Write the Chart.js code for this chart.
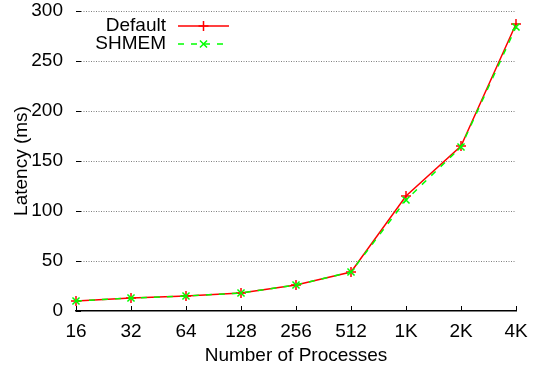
<!DOCTYPE html>
<html>
<head>
<meta charset="utf-8">
<script src="https://cdn.jsdelivr.net/npm/chart.js@4.4.1/dist/chart.umd.min.js"></script>
<style>
html, body { margin: 0; padding: 0; background: #fff; }
#wrap { width: 537px; height: 372px; }
</style>
</head>
<body>
<div id="wrap"><canvas id="latencyChart" width="537" height="372"></canvas></div>
<script>
var processes = ['16', '32', '64', '128', '256', '512', '1K', '2K', '4K'];
var defaultLatency = [10, 13, 15, 18, 26, 39, 115, 165, 287];
var shmemLatency = [10, 13, 15, 18, 26, 39, 111, 164, 284];
var yTicks = [0, 50, 100, 150, 200, 250, 300];

Chart.defaults.font.family = 'Liberation Sans, Arial, sans-serif';
Chart.defaults.font.size = 19;
Chart.defaults.color = '#000';

// gnuplot style: dotted grid, tics pointing into the plot, legend with label before the sample
var gnuplotLook = {
    id: 'gnuplotLook',
    beforeDatasetsDraw: function (chart) {
        var ctx = chart.ctx;
        var area = chart.chartArea;
        var x = chart.scales.x, y = chart.scales.y;
        ctx.save();
        // grid
        ctx.strokeStyle = '#808080';
        ctx.lineWidth = 1;
        ctx.setLineDash([1, 1.5]);
        ctx.beginPath();
        y.ticks.forEach(function (t, i) {
            if (t.value === 0) return;
            var py = Math.round(y.getPixelForTick(i)) + 0.5;
            ctx.moveTo(area.left + 5, py);
            ctx.lineTo(area.right, py);
        });
        ctx.stroke();
        ctx.setLineDash([]);
        // tics
        ctx.strokeStyle = '#000';
        ctx.beginPath();
        x.ticks.forEach(function (t, i) {
            var px = Math.round(x.getPixelForTick(i)) + 0.5;
            ctx.moveTo(px, area.bottom);
            ctx.lineTo(px, area.bottom - 5);
        });
        y.ticks.forEach(function (t, i) {
            var py = Math.round(y.getPixelForTick(i)) + 0.5;
            ctx.moveTo(area.left, py);
            ctx.lineTo(area.left + 5, py);
        });
        ctx.stroke();
        ctx.restore();
    },
    afterDraw: function (chart) {
        var ctx = chart.ctx;
        ctx.save();
        ctx.font = '19px Liberation Sans, Arial, sans-serif';
        ctx.textAlign = 'right';
        ctx.textBaseline = 'middle';
        chart.data.datasets.forEach(function (ds, i) {
            var rowY = 26 + i * 18;
            ctx.fillStyle = '#000';
            ctx.fillText(ds.label, 166, rowY);
            ctx.strokeStyle = ds.borderColor;
            ctx.lineWidth = ds.borderWidth;
            ctx.setLineDash(ds.borderDash || []);
            ctx.beginPath();
            ctx.moveTo(178, rowY);
            ctx.lineTo(229, rowY);
            ctx.stroke();
            ctx.setLineDash([]);
            Chart.helpers.drawPoint(ctx, {
                pointStyle: ds.pointStyle,
                radius: ds.pointRadius,
                borderWidth: ds.pointBorderWidth,
                rotation: 0
            }, 203.5, rowY);
        });
        ctx.restore();
    }
};

var ctx = document.getElementById('latencyChart').getContext('2d');
var chart = new Chart(ctx, {
    type: 'line',
    data: {
        labels: processes,
        datasets: [{
            label: 'Default',
            data: defaultLatency,
            borderColor: '#ff0000',
            backgroundColor: '#ff0000',
            borderWidth: 1.5,
            pointStyle: 'cross',
            pointRadius: 5,
            pointBorderWidth: 1.5,
            pointBorderColor: '#ff0000',
            tension: 0,
            order: 1
        }, {
            label: 'SHMEM',
            data: shmemLatency,
            borderColor: '#00ff00',
            backgroundColor: '#00ff00',
            borderWidth: 1.5,
            borderDash: [6, 7],
            pointStyle: 'crossRot',
            pointRadius: 5,
            pointBorderWidth: 1.5,
            pointBorderColor: '#00ff00',
            tension: 0,
            order: 0
        }]
    },
    options: {
        responsive: false,
        animation: false,
        devicePixelRatio: 1,
        layout: {
            padding: { top: 11, right: 21, left: 0, bottom: 0 }
        },
        plugins: {
            legend: { display: false },
            tooltip: { enabled: false }
        },
        scales: {
            x: {
                type: 'category',
                offset: false,
                grid: { display: false, drawTicks: false },
                border: { display: true, color: '#000', width: 1.5 },
                ticks: { padding: 9, maxRotation: 0, autoSkip: false },
                title: {
                    display: true,
                    text: 'Number of Processes',
                    padding: { top: 0, bottom: 5 }
                },
                afterFit: function (scale) { scale.height = 61; }
            },
            y: {
                min: 0,
                max: 300,
                afterBuildTicks: function (scale) {
                    scale.ticks = yTicks.map(function (v) { return { value: v }; });
                },
                grid: { display: false, drawTicks: false },
                border: { display: false },
                ticks: { padding: 13 },
                title: {
                    display: true,
                    text: 'Latency (ms)',
                    padding: { top: 10, bottom: 0 }
                },
                afterFit: function (scale) {
                    scale.width = 76;
                    scale.paddingTop = 0;
                    scale.paddingBottom = 0;
                }
            }
        }
    },
    plugins: [gnuplotLook]
});
</script>
</body>
</html>
